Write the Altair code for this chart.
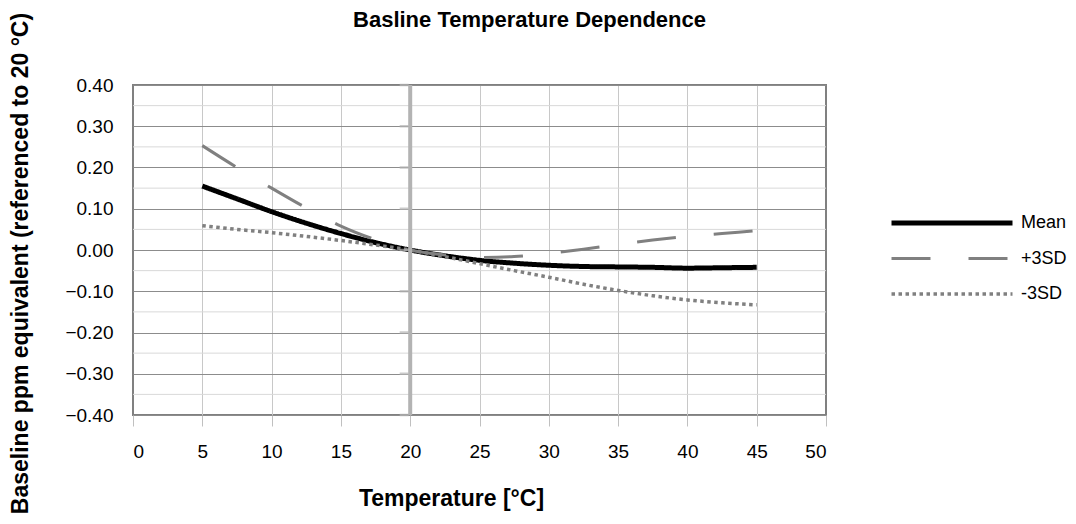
import altair as alt
import pandas as pd

# ---- data ----
temps = [5, 7.5, 10, 12.5, 15, 17.5, 20, 22.5, 25, 27.5, 30, 32.5, 35, 37.5, 40, 42.5, 45]
mean_vals = [0.155, 0.124, 0.093, 0.065, 0.040, 0.018, 0.000, -0.014, -0.025, -0.032,
             -0.037, -0.040, -0.041, -0.042, -0.044, -0.043, -0.042]
plus3_vals = [0.253, 0.200, 0.150, 0.102, 0.058, 0.025, 0.000, -0.012, -0.018, -0.016,
              -0.008, 0.002, 0.013, 0.024, 0.033, 0.040, 0.047]
minus3_vals = [0.059, 0.050, 0.042, 0.033, 0.023, 0.012, 0.000, -0.016, -0.033, -0.050,
               -0.066, -0.083, -0.098, -0.111, -0.121, -0.128, -0.133]
series_names = ["Mean", "+3SD", "-3SD"]
x_ticks = [0, 5, 10, 15, 20, 25, 30, 35, 40, 45, 50]
y_major = [-0.4, -0.3, -0.2, -0.1, 0.0, 0.1, 0.2, 0.3, 0.4]
y_minor = [-0.35, -0.25, -0.15, -0.05, 0.05, 0.15, 0.25, 0.35]
axis_cross_at = [20]

rows = []
for name, vals in zip(series_names, [mean_vals, plus3_vals, minus3_vals]):
    for t, v in zip(temps, vals):
        rows.append({"T": t, "v": v, "series": name})
df = pd.DataFrame(rows)

FONT = "Liberation Sans"
x_scale = alt.Scale(domain=[0, 50], nice=False, zero=False)
y_scale = alt.Scale(domain=[-0.4, 0.4], nice=False, zero=False)

minor_grid = alt.Chart(pd.DataFrame({"v": y_minor})).mark_rule(
    color="#d9d9d9", strokeWidth=1
).encode(y=alt.Y("v:Q", scale=y_scale))

legend_cfg = dict(title=None)

lines = alt.Chart(df).mark_line(interpolate="monotone", strokeCap="butt").encode(
    x=alt.X("T:Q", scale=x_scale,
            axis=alt.Axis(values=x_ticks, title="Temperature [°C]", grid=True,
                          gridColor=alt.condition("datum.value == 0 || datum.value == 50",
                                                  alt.value("#808080"), alt.value("#c8c8c8")),
                          domain=False, ticks=True, tickColor="#c0c0c0", tickSize=11,
                          labelPadding=16, labelFontSize=19, labelColor="#000000",
                          titleFontSize=23, titleFontWeight="bold", titleColor="#000000",
                          titleX=318, titleY=90, titleBaseline="alphabetic", titleAlign="center")),
    y=alt.Y("v:Q", scale=y_scale,
            axis=alt.Axis(values=y_major, format=".2f",
                          title="Baseline ppm equivalent (referenced to 20 °C)",
                          grid=True, gridColor="#8c8c8c", domain=False, ticks=False, tickSize=0,
                          labelPadding=20, labelFontSize=19, labelColor="#000000",
                          titleFontSize=23, titleFontWeight="bold", titleColor="#000000",
                          titleX=-113, titleY=178, titleAngle=270, titleAlign="center",
                          titleBaseline="middle")),
    color=alt.Color("series:N", scale=alt.Scale(domain=series_names,
                                                range=["#000000", "#808080", "#808080"]),
                    legend=alt.Legend(**legend_cfg)),
    strokeDash=alt.StrokeDash("series:N", scale=alt.Scale(domain=series_names,
                                                          range=[[1, 0], [39, 38], [3.5, 3.5]]),
                              legend=alt.Legend(**legend_cfg)),
    strokeWidth=alt.StrokeWidth("series:N", scale=alt.Scale(type="ordinal", domain=series_names,
                                                            range=[5, 3, 3.5]),
                                legend=alt.Legend(**legend_cfg)),
)

cross_axis = alt.Chart(pd.DataFrame({"T": axis_cross_at})).mark_rule(
    color="#b3b3b3", strokeWidth=4
).encode(x=alt.X("T:Q", scale=x_scale))

cross_ticks = alt.Chart(pd.DataFrame({"T": axis_cross_at * len(y_major), "v": y_major})).mark_tick(
    orient="horizontal", size=9, thickness=2.5, color="#b3b3b3", xOffset=-6
).encode(x=alt.X("T:Q", scale=x_scale), y=alt.Y("v:Q", scale=y_scale))

chart = alt.layer(minor_grid, lines, cross_axis, cross_ticks).properties(
    width=693, height=330,
    autosize=alt.AutoSizeParams(type="none"),
    padding={"left": 125, "top": 77, "right": 242, "bottom": 101},
    title=alt.TitleParams("Basline Temperature Dependence", fontSize=22, font=FONT,
                          fontWeight="bold", color="#000000", anchor="middle", dx=50,
                          baseline="alphabetic", offset=0, dy=37),
).configure(font=FONT).configure_view(
    stroke="#808080", strokeWidth=2
).configure_legend(
    orient="none", legendX=756, legendY=128, symbolType="M-1,0H1", symbolSize=14641,
    clipHeight=20, rowPadding=15.5, labelOffset=6, labelFontSize=18, labelFont=FONT,
    labelColor="#000000", padding=0, symbolOpacity=1
)

chart.save("out.html", embed_options={"renderer": "svg", "actions": False})
